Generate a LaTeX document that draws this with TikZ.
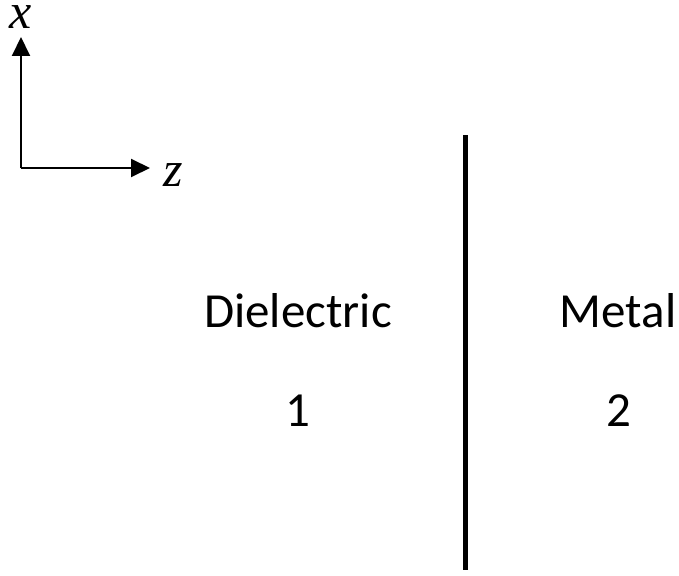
\documentclass[tikz,border=0pt]{standalone}
\usepackage{fontspec}
\setmainfont{Carlito}
\newfontfamily\tms{Liberation Serif}
\usetikzlibrary{arrows.meta}
\begin{document}
\begin{tikzpicture}[x=1pt,y=-1pt,
  axis/.style={line width=2pt,-{Triangle[length=19pt,width=18pt]}},
  lbl/.style={anchor=base,inner sep=0pt,font=\fontsize{49}{55}\selectfont},
  axlbl/.style={anchor=base,inner sep=0pt,font=\fontsize{50}{56}\selectfont\tms\itshape}]
\useasboundingbox (0,0) rectangle (679,575);
\coordinate (o) at (21,168);
\coordinate (xt) at (21,37);
\coordinate (zt) at (150,168);
\draw[axis] (o) -- (xt);
\draw[axis] (o) -- (zt);
\node[axlbl] (xl) at (21,29) {x};
\node[axlbl] (zl) at (173,186) {z};
\coordinate (top) at (465.5,135);
\coordinate (bot) at (465.5,570);
\draw[line width=5pt] (top) -- (bot);
\node[lbl] (d) at (298,327) {Dielectric};
\node[lbl] (one) at (298,426) {1};
\node[lbl] (m) at (618,327) {Metal};
\node[lbl] (two) at (619,426) {2};
\end{tikzpicture}
\end{document}
